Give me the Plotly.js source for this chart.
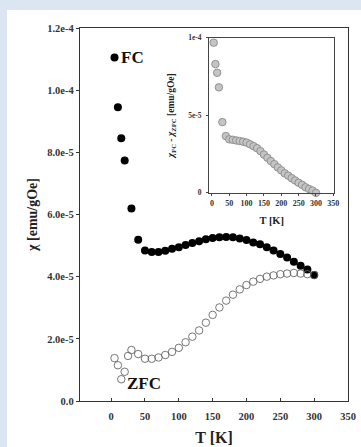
<!DOCTYPE html>
<html>
<head>
<meta charset="utf-8">
<script src="https://cdn.plot.ly/plotly-3.0.1.min.js"></script>
<style>
html,body{margin:0;padding:0;background:#dce6f2;width:361px;height:447px;overflow:hidden;}
#chart{position:absolute;left:7px;top:10px;width:354px;height:437px;}
</style>
</head>
<body>
<div id="chart"></div>
<script>
// Main plot: FC and ZFC susceptibility
const fcT = [5,10,15,20,30,40,50,60,70,80,90,100,110,120,130,140,150,160,170,180,190,200,210,220,230,240,250,260,270,280,290,300];
const fcChi = [1.105e-4,9.45e-5,8.45e-5,7.74e-5,6.19e-5,5.19e-5,4.84e-5,4.79e-5,4.79e-5,4.83e-5,4.90e-5,4.95e-5,5.02e-5,5.08e-5,5.14e-5,5.20e-5,5.24e-5,5.27e-5,5.28e-5,5.27e-5,5.23e-5,5.18e-5,5.10e-5,5.04e-5,4.95e-5,4.84e-5,4.73e-5,4.62e-5,4.48e-5,4.35e-5,4.23e-5,4.05e-5];
const zfcT = [5,10,15,20,25,30,40,50,60,70,80,90,100,110,120,130,140,150,160,170,180,190,200,210,220,230,240,250,260,270,280,290,300];
const zfcChi = [1.38e-5,1.15e-5,0.70e-5,0.94e-5,1.45e-5,1.64e-5,1.51e-5,1.36e-5,1.36e-5,1.40e-5,1.48e-5,1.58e-5,1.71e-5,1.89e-5,2.07e-5,2.27e-5,2.52e-5,2.77e-5,3.01e-5,3.23e-5,3.42e-5,3.59e-5,3.73e-5,3.84e-5,3.93e-5,4.00e-5,4.04e-5,4.08e-5,4.10e-5,4.12e-5,4.10e-5,4.08e-5,4.05e-5];
// Inset: FC - ZFC
const diffT = [5,10,15,20,30,40,50,60,70,80,90,100,110,120,130,140,150,160,170,180,190,200,210,220,230,240,250,260,270,280,290,300];
const diffChi = [9.68e-5,8.30e-5,7.74e-5,6.80e-5,4.56e-5,3.66e-5,3.45e-5,3.42e-5,3.38e-5,3.34e-5,3.30e-5,3.24e-5,3.13e-5,3.01e-5,2.88e-5,2.69e-5,2.47e-5,2.26e-5,2.05e-5,1.85e-5,1.64e-5,1.45e-5,1.26e-5,1.11e-5,0.95e-5,0.80e-5,0.65e-5,0.52e-5,0.36e-5,0.25e-5,0.15e-5,0.0];
// Tick labels
const mainXTicks = [0,50,100,150,200,250,300,350];
const mainYTickVals = [0,2e-5,4e-5,6e-5,8e-5,1e-4,1.2e-4];
const mainYTickText = ["0.0","2.0e-5","4.0e-5","6.0e-5","8.0e-5","1.0e-4","1.2e-4"];
const insetXTicks = [0,50,100,150,200,250,300,350];
const insetYTickVals = [0,5e-5,1e-4];
const insetYTickText = ["0","5e-5","1e-4"];

const serif = "Liberation Serif, Times New Roman, serif";

const traces = [
  {x: fcT, y: fcChi, type:'scatter', mode:'markers', name:'FC', xaxis:'x', yaxis:'y',
   marker:{size:8, color:'#000', line:{width:0}}},
  {x: zfcT, y: zfcChi, type:'scatter', mode:'markers', name:'ZFC', xaxis:'x', yaxis:'y',
   marker:{size:7.5, color:'rgba(255,255,255,0)', line:{width:0.9, color:'#666'}}},
  {x: diffT, y: diffChi, type:'scatter', mode:'markers', name:'FC-ZFC', xaxis:'x2', yaxis:'y2',
   cliponaxis:false,
   marker:{size:7.5, color:'#c4c4c4', line:{width:0.9, color:'#8a8a8a'}}}
];

const layout = {
  width:354, height:437,
  margin:{l:73, r:13, t:18, b:46},
  paper_bgcolor:'#fff', plot_bgcolor:'#fff',
  showlegend:false,
  font:{family:serif, color:'#222'},
  xaxis:{range:[-46,350], tickvals:mainXTicks, ticktext:mainXTicks.map(String),
    showline:true, mirror:true, linecolor:'#333', linewidth:1.2,
    ticks:'inside', ticklen:3, tickcolor:'#333', showgrid:false, zeroline:false,
    ticklabelstandoff:5,
    tickfont:{family:serif, size:10.5, weight:'bold', color:'#333'},
    title:{text:'T [K]', font:{family:serif, size:16, weight:'bold', color:'#222'}, standoff:11}},
  yaxis:{range:[0,1.2e-4], tickvals:mainYTickVals, ticktext:mainYTickText,
    showline:true, mirror:true, linecolor:'#333', linewidth:1.2,
    ticks:'outside', ticklen:3, tickcolor:'#333', showgrid:false, zeroline:false,
    tickfont:{family:serif, size:10.5, weight:'bold', color:'#333'},
    title:{text:'χ [emu/gOe]', font:{family:serif, size:14, weight:'bold', color:'#222'}, standoff:6}},
  xaxis2:{domain:[0.482,0.949], anchor:'y2', range:[-8,353], tickvals:insetXTicks, ticktext:insetXTicks.map(String),
    showline:true, mirror:true, linecolor:'#444', linewidth:1.1,
    ticks:'outside', ticklen:2, tickcolor:'#444', showgrid:false, zeroline:false,
    tickfont:{family:serif, size:8, weight:'bold', color:'#333'},
    title:{text:'T [K]', font:{family:serif, size:10.5, weight:'bold', color:'#222'}, standoff:10}},
  yaxis2:{domain:[0.558,0.974], anchor:'x2', range:[0,1e-4], tickvals:insetYTickVals, ticktext:insetYTickText,
    showline:true, mirror:true, linecolor:'#444', linewidth:1.1,
    ticks:'outside', ticklen:2, tickcolor:'#444', showgrid:false, zeroline:false,
    ticklabelstandoff:3,
    tickfont:{family:serif, size:7.5, weight:'bold', color:'#333'},
    title:{text:'<i>χ</i><sub>FC</sub> - <i>χ</i><sub>ZFC</sub> [emu/gOe]', font:{family:serif, size:9.5, weight:'bold', color:'#222'}, standoff:11}},
  annotations:[
    {text:'FC', x:12, y:1.105e-4, xref:'x', yref:'y', xanchor:'left', yanchor:'middle', showarrow:false,
     font:{family:serif, size:17, weight:'bold', color:'#111'}},
    {text:'ZFC', x:21, y:0.57e-5, xref:'x', yref:'y', xanchor:'left', yanchor:'middle', showarrow:false,
     font:{family:serif, size:17, weight:'bold', color:'#111'}}
  ]
};

Plotly.newPlot('chart', traces, layout, {displayModeBar:false, staticPlot:true});
</script>
</body>
</html>
